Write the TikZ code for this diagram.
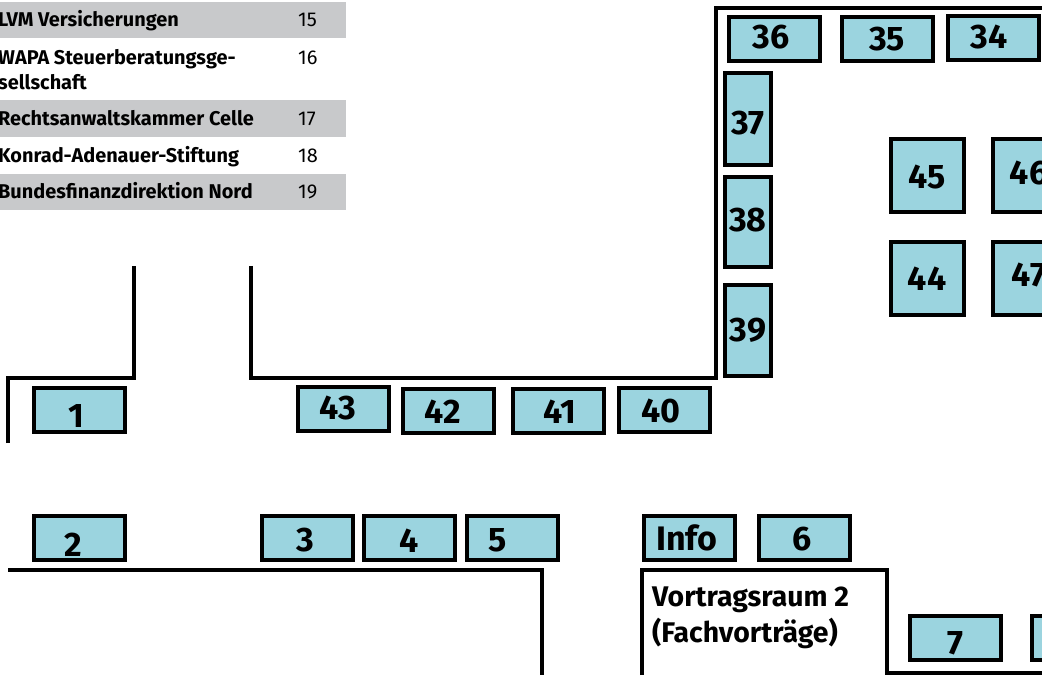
\documentclass[tikz,border=0pt]{standalone}
\usepackage{fontspec}
\setmainfont{Fira Sans}
\definecolor{standblue}{HTML}{9BD4DF}
\definecolor{rowgray}{HTML}{C8C9CB}
\tikzset{
  stand/.style={draw=black,line width=4pt,fill=standblue,inner sep=0pt,minimum width=91pt,minimum height=44pt,font=\fontsize{34}{34}\bfseries\selectfont,text height=#1},
  stand/.default=24pt,
  wall/.style={draw=black,line width=3.3pt,line join=miter},
  firm/.style={anchor=base west,inner sep=0pt,font=\fontsize{19.9}{19.9}\bfseries\selectfont},
  firmno/.style={anchor=base west,inner sep=0pt,font=\fontsize{20}{20}\selectfont},
  room/.style={anchor=base west,inner sep=0pt,font=\fontsize{28.4}{28.4}\bfseries\selectfont}
}
\begin{document}
\begin{tikzpicture}[x=1pt,y=-1pt]
\useasboundingbox (0,0) rectangle (1042,676);
\clip (0,0) rectangle (1042,676);
% table
\fill[rowgray] (0,2) rectangle (346,38);
\fill[rowgray] (0,100) rectangle (346,137);
\fill[rowgray] (0,174) rectangle (346,210);
\node[firm] (f15) at (-2,27) {LVM Versicherungen};
\node[firmno] (n15) at (298,27) {15};
\node[firm] (f16) at (-2,65) {WAPA Steuerberatungsge-};
\node[firm] (f16b) at (-2,90) {sellschaft};
\node[firmno] (n16) at (298,65) {16};
\node[firm] (f17) at (-2,126) {Rechtsanwaltskammer Celle};
\node[firmno] (n17) at (298,126) {17};
\node[firm] (f18) at (-2,163) {Konrad-Adenauer-Stiftung};
\node[firmno] (n18) at (298,163) {18};
\node[firm] (f19) at (-2,199) {Bundesfinanzdirektion Nord};
\node[firmno] (n19) at (298,199) {19};
% walls
\draw[wall] (8,443) -- (8,378) -- (134,378) -- (134,266);
\draw[wall] (251,266) -- (251,378) -- (716,378) -- (716,8) -- (1042,8);
\draw[wall] (8,570) -- (542,570) -- (542,675);
\draw[wall] (642,675) -- (642,570) -- (887,570) -- (887,673) -- (1042,673);
\node[room] (vortrag) at (652,606) {Vortragsraum 2};
\node[room] (fach) at (652,642) {(Fachvorträge)};
% stands, left
\node[stand=36pt] (s1) at (79,410) {1\kern6pt};
\node[stand=36pt] (s2) at (79,538) {2\kern12pt};
\node[stand=28pt] (s3) at (307,538) {3\kern4pt};
\node[stand=28pt] (s4) at (409,538) {4};
\node[stand=28pt] (s5) at (512,538) {5\kern28pt};
\node[stand=26pt] (info) at (689,538) {Info\kern4pt};
\node[stand=26pt] (s6) at (804,538) {6\kern4pt};
\node[stand=34pt] (s7) at (955,638) {7};
\node[stand] (s8) at (1077,638) {};
% stands, top row
\node[stand=22pt] (s43) at (343,409) {43\kern10pt};
\node[stand=24pt] (s42) at (448,411) {42\kern10pt};
\node[stand=24pt] (s41) at (558,411) {\kern4pt 41};
\node[stand=26pt] (s40) at (664,410) {40\kern6pt};
\node[stand=20pt] (s36) at (774,39) {36\kern6pt};
\node[stand=24pt] (s35) at (887,39) {35};
\node[stand=22pt] (s34) at (993,38) {34\kern8pt};
% stands, narrow
\node[stand=32pt,minimum width=46pt,minimum height=92pt] (s37) at (748,119) {37};
\node[stand=20pt,minimum width=46pt,minimum height=90pt] (s38) at (748,222) {38};
\node[stand=22pt,minimum width=46pt,minimum height=91pt] (s39) at (748,331) {39};
% stands, square
\node[stand=26pt,minimum width=73pt,minimum height=73pt] (s45) at (927,176) {45};
\node[stand=18pt,minimum width=73pt,minimum height=73pt] (s46) at (1029,176) {46};
\node[stand=24pt,minimum width=73pt,minimum height=73pt] (s44) at (927,279) {44};
\node[stand=16pt,minimum width=73pt,minimum height=73pt] (s47) at (1029,279) {47};
\end{tikzpicture}
\end{document}
